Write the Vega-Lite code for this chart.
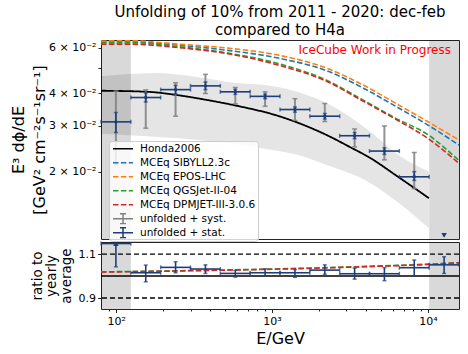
{
  "$schema": "https://vega.github.io/schema/vega-lite/v6.json",
  "padding": {"left": 10, "top": 4, "right": 5, "bottom": 2},
  "title": {"text": ["Unfolding of 10% from 2011 - 2020: dec-feb", "compared to H4a"], "fontSize": 15, "font": "DejaVu Sans", "fontWeight": "normal", "anchor": "middle", "frame": "group", "offset": 2, "lineHeight": 18, "color": "#000"},
  "config": {
    "font": "DejaVu Sans",
    "view": {"stroke": "#262626", "strokeWidth": 1},
    "axis": {"labelFont": "DejaVu Sans", "labelFontSize": 11, "titleFont": "DejaVu Sans", "titleFontWeight": "normal", "tickColor": "#262626", "domain": false, "grid": false, "labelColor": "#000", "titleColor": "#000", "labelOverlap": false, "labelFlush": false},
    "legend": {"labelFont": "DejaVu Sans"}
  },
  "datasets": {
    "regions": [{"a": 80, "b": 124.3}, {"a": 10170, "b": 15800}],
    "band": [
      {"E": 80, "lo": 0.0280, "hi": 0.0466},
      {"E": 186, "lo": 0.0272, "hi": 0.0480},
      {"E": 336, "lo": 0.0265, "hi": 0.0462},
      {"E": 522, "lo": 0.0257, "hi": 0.0443},
      {"E": 1092, "lo": 0.0240, "hi": 0.0424},
      {"E": 1469, "lo": 0.0232, "hi": 0.0405},
      {"E": 2287, "lo": 0.0211, "hi": 0.0365},
      {"E": 4114, "lo": 0.0183, "hi": 0.0290},
      {"E": 6719, "lo": 0.0149, "hi": 0.0228},
      {"E": 10138, "lo": 0.0121, "hi": 0.0200}
    ],
    "honda": [
      {"series": "Honda2006", "E": 80, "v": 0.0410},
      {"series": "Honda2006", "E": 160, "v": 0.0406},
      {"series": "Honda2006", "E": 249, "v": 0.0394},
      {"series": "Honda2006", "E": 389, "v": 0.0377},
      {"series": "Honda2006", "E": 605, "v": 0.0358},
      {"series": "Honda2006", "E": 1092, "v": 0.0328},
      {"series": "Honda2006", "E": 2287, "v": 0.0275},
      {"series": "Honda2006", "E": 3148, "v": 0.0249},
      {"series": "Honda2006", "E": 4246, "v": 0.0226},
      {"series": "Honda2006", "E": 6427, "v": 0.0191},
      {"series": "Honda2006", "E": 10138, "v": 0.0158}
    ],
    "mceq": [
      {"series": "MCEq SIBYLL2.3c", "E": 80, "v": 0.06310},
      {"series": "MCEq SIBYLL2.3c", "E": 119.4, "v": 0.06338},
      {"series": "MCEq SIBYLL2.3c", "E": 249.6, "v": 0.06144},
      {"series": "MCEq SIBYLL2.3c", "E": 522, "v": 0.05864},
      {"series": "MCEq SIBYLL2.3c", "E": 1092, "v": 0.05478},
      {"series": "MCEq SIBYLL2.3c", "E": 2287, "v": 0.04870},
      {"series": "MCEq SIBYLL2.3c", "E": 3722, "v": 0.04240},
      {"series": "MCEq SIBYLL2.3c", "E": 6140, "v": 0.03583},
      {"series": "MCEq SIBYLL2.3c", "E": 10000, "v": 0.03022},
      {"series": "MCEq SIBYLL2.3c", "E": 15800, "v": 0.02531},
      {"series": "MCEq EPOS-LHC", "E": 80, "v": 0.06366},
      {"series": "MCEq EPOS-LHC", "E": 119.4, "v": 0.06394},
      {"series": "MCEq EPOS-LHC", "E": 249.6, "v": 0.06199},
      {"series": "MCEq EPOS-LHC", "E": 522, "v": 0.05984},
      {"series": "MCEq EPOS-LHC", "E": 1092, "v": 0.05625},
      {"series": "MCEq EPOS-LHC", "E": 2287, "v": 0.04984},
      {"series": "MCEq EPOS-LHC", "E": 3722, "v": 0.04354},
      {"series": "MCEq EPOS-LHC", "E": 6140, "v": 0.03680},
      {"series": "MCEq EPOS-LHC", "E": 10000, "v": 0.03112},
      {"series": "MCEq EPOS-LHC", "E": 15800, "v": 0.02647},
      {"series": "MCEq QGSJet-II-04", "E": 80, "v": 0.06282},
      {"series": "MCEq QGSJet-II-04", "E": 119.4, "v": 0.06282},
      {"series": "MCEq QGSJet-II-04", "E": 249.6, "v": 0.06064},
      {"series": "MCEq QGSJet-II-04", "E": 522, "v": 0.05725},
      {"series": "MCEq QGSJet-II-04", "E": 1092, "v": 0.05218},
      {"series": "MCEq QGSJet-II-04", "E": 2287, "v": 0.04471},
      {"series": "MCEq QGSJet-II-04", "E": 3722, "v": 0.03812},
      {"series": "MCEq QGSJet-II-04", "E": 6140, "v": 0.03223},
      {"series": "MCEq QGSJet-II-04", "E": 10000, "v": 0.02774},
      {"series": "MCEq QGSJet-II-04", "E": 15800, "v": 0.02204},
      {"series": "MCEq DPMJET-III-3.0.6", "E": 80, "v": 0.06199},
      {"series": "MCEq DPMJET-III-3.0.6", "E": 119.4, "v": 0.06199},
      {"series": "MCEq DPMJET-III-3.0.6", "E": 249.6, "v": 0.06011},
      {"series": "MCEq DPMJET-III-3.0.6", "E": 522, "v": 0.05690},
      {"series": "MCEq DPMJET-III-3.0.6", "E": 1092, "v": 0.05150},
      {"series": "MCEq DPMJET-III-3.0.6", "E": 2287, "v": 0.04431},
      {"series": "MCEq DPMJET-III-3.0.6", "E": 3722, "v": 0.03778},
      {"series": "MCEq DPMJET-III-3.0.6", "E": 6140, "v": 0.03195},
      {"series": "MCEq DPMJET-III-3.0.6", "E": 10000, "v": 0.02684},
      {"series": "MCEq DPMJET-III-3.0.6", "E": 15800, "v": 0.02151}
    ],
    "pts": [
      {"E": 99.7, "lo": 80, "hi": 124.3, "v": 0.0311, "sl": 0.0283, "sh": 0.0338, "yl": 0.0213, "yh": 0.0409},
      {"E": 154.9, "lo": 124.3, "hi": 193.1, "v": 0.0386, "sl": 0.0371, "sh": 0.0402, "yl": 0.0294, "yh": 0.0413},
      {"E": 240.6, "lo": 193.1, "hi": 299.9, "v": 0.0414, "sl": 0.0398, "sh": 0.0430, "yl": 0.0327, "yh": 0.0440},
      {"E": 374, "lo": 299.9, "hi": 465.9, "v": 0.0428, "sl": 0.0414, "sh": 0.0443, "yl": 0.0400, "yh": 0.0474},
      {"E": 581, "lo": 465.9, "hi": 723.7, "v": 0.0406, "sl": 0.0397, "sh": 0.0415, "yl": 0.0365, "yh": 0.0422},
      {"E": 902, "lo": 723.7, "hi": 1124, "v": 0.0390, "sl": 0.0382, "sh": 0.0398, "yl": 0.0357, "yh": 0.0406},
      {"E": 1402, "lo": 1124, "hi": 1747, "v": 0.0347, "sl": 0.0339, "sh": 0.0355, "yl": 0.0315, "yh": 0.0382},
      {"E": 2178, "lo": 1747, "hi": 2713, "v": 0.0327, "sl": 0.0319, "sh": 0.0335, "yl": 0.0312, "yh": 0.0366},
      {"E": 3383, "lo": 2713, "hi": 4214, "v": 0.0275, "sl": 0.0268, "sh": 0.0283, "yl": 0.0249, "yh": 0.0292},
      {"E": 5253, "lo": 4214, "hi": 6547, "v": 0.0240, "sl": 0.0233, "sh": 0.0247, "yl": 0.0222, "yh": 0.0300},
      {"E": 8160, "lo": 6547, "hi": 10170, "v": 0.0191, "sl": 0.0185, "sh": 0.0200, "yl": 0.0172, "yh": 0.0237}
    ],
    "offlow": [{"E": 12680, "v": 0.01136}],
    "note": [{"E": 14030, "v": 0.0569, "label": "IceCube Work in Progress"}],
    "ratio": [
      {"E": 99.7, "lo": 80, "hi": 124.3, "r": 1.148, "rl": 1.042, "rh": 1.148},
      {"E": 154.9, "lo": 124.3, "hi": 193.1, "r": 1.015, "rl": 0.974, "rh": 1.05},
      {"E": 240.6, "lo": 193.1, "hi": 299.9, "r": 1.0395, "rl": 1.015, "rh": 1.065},
      {"E": 374, "lo": 299.9, "hi": 465.9, "r": 1.032, "rl": 1.012, "rh": 1.051},
      {"E": 581, "lo": 465.9, "hi": 723.7, "r": 1.012, "rl": 0.995, "rh": 1.026},
      {"E": 902, "lo": 723.7, "hi": 1124, "r": 1.015, "rl": 1.001, "rh": 1.033},
      {"E": 1402, "lo": 1124, "hi": 1747, "r": 1.015, "rl": 0.994, "rh": 1.030},
      {"E": 2178, "lo": 1747, "hi": 2713, "r": 1.027, "rl": 1.008, "rh": 1.051},
      {"E": 3383, "lo": 2713, "hi": 4214, "r": 1.0105, "rl": 0.986, "rh": 1.036},
      {"E": 5253, "lo": 4214, "hi": 6547, "r": 1.0105, "rl": 0.979, "rh": 1.038},
      {"E": 8160, "lo": 6547, "hi": 10170, "r": 1.038, "rl": 1.0, "rh": 1.073},
      {"E": 12680, "lo": 10170, "hi": 15800, "r": 1.051, "rl": 1.012, "rh": 1.088}
    ],
    "offhigh": [{"E": 99.7, "r": 1.148}],
    "refs": [{"y": 0.9}, {"y": 1.1}],
    "one": [{"y": 1.0}],
    "rq": [
      {"E": 80, "r": 1.019}, {"E": 300, "r": 1.025}, {"E": 1000, "r": 1.032}, {"E": 3000, "r": 1.041}, {"E": 10000, "r": 1.054}, {"E": 15800, "r": 1.061}
    ],
    "rd": [
      {"E": 80, "r": 1.018}, {"E": 300, "r": 1.024}, {"E": 1000, "r": 1.031}, {"E": 3000, "r": 1.040}, {"E": 10000, "r": 1.053}, {"E": 15800, "r": 1.060}
    ]
  },
  "spacing": 0,
  "vconcat": [
    {
      "width": 358,
      "height": 199,
      "layer": [
        {"data": {"name": "regions"}, "mark": {"type": "rect", "color": "#000", "opacity": 0.15},
         "encoding": {"x": {"field": "a", "type": "quantitative", "scale": {"type": "log", "domain": [80, 15800], "nice": false}, "axis": null}, "x2": {"field": "b"}}},
        {"data": {"name": "band"}, "mark": {"type": "area", "color": "#000", "opacity": 0.1, "interpolate": "monotone"},
         "encoding": {
           "x": {"field": "E", "type": "quantitative", "scale": {"type": "log", "domain": [80, 15800], "nice": false}, "axis": null},
           "y": {"field": "lo", "type": "quantitative", "scale": {"type": "log", "domain": [0.011, 0.0643], "nice": false},
                 "axis": {"title": ["E³ dϕ/dE", "[GeV² cm⁻²s⁻¹sr⁻¹]"], "titleFontSize": 16, "titleLineHeight": 21, "titlePadding": 1, "values": [0.02, 0.03, 0.04, 0.05, 0.06], "labelExpr": "datum.value > 0.045 && datum.value < 0.055 ? '' : format(round(datum.value * 100), 'd') + ' × 10⁻²'", "tickSize": 3, "labelPadding": 2}},
           "y2": {"field": "hi"}}},
        {"data": {"name": "honda"}, "mark": {"type": "line", "strokeWidth": 1.8, "interpolate": "monotone", "clip": true},
         "encoding": {
           "x": {"field": "E", "type": "quantitative", "axis": null},
           "y": {"field": "v", "type": "quantitative"},
           "color": {"field": "series", "type": "nominal", "scale": {"domain": ["Honda2006", "MCEq SIBYLL2.3c", "MCEq EPOS-LHC", "MCEq QGSJet-II-04", "MCEq DPMJET-III-3.0.6", "unfolded + syst.", "unfolded + stat."], "range": ["#000000", "#1f77b4", "#ff7f0e", "#2ca02c", "#d62728", "#808080", "#1c3f7a"]},
                     "legend": {"title": null, "orient": "none", "legendX": 8, "legendY": 101, "fillColor": "rgba(255,255,255,0.8)", "strokeColor": "#cccccc", "padding": 2, "symbolOffset": 6, "cornerRadius": 3, "labelFontSize": 10.5, "symbolSize": 100, "symbolStrokeWidth": 1.5, "labelOffset": 11, "rowPadding": 2, "clipHeight": 11.5,
                                "encode": {"symbols": {"update": {"shape": {"signal": "indexof(['unfolded + syst.', 'unfolded + stat.'], datum.value) >= 0 ? 'M-2,0H2M0,-1V1M-0.6,-1H0.6M-0.6,1H0.6' : 'M-2,0H2'"}}}}}},
           "strokeDash": {"field": "series", "type": "nominal", "scale": {"domain": ["Honda2006", "MCEq SIBYLL2.3c", "MCEq EPOS-LHC", "MCEq QGSJet-II-04", "MCEq DPMJET-III-3.0.6", "unfolded + syst.", "unfolded + stat."], "range": [[1, 0], [5.5, 2.4], [5.5, 2.4], [5.5, 2.4], [5.5, 2.4], [1, 0], [1, 0]]},
                          "legend": {"title": null, "orient": "none", "legendX": 8, "legendY": 101, "fillColor": "rgba(255,255,255,0.8)", "strokeColor": "#cccccc", "padding": 2, "symbolOffset": 6, "cornerRadius": 3, "labelFontSize": 10.5, "symbolSize": 100, "symbolStrokeWidth": 1.5, "labelOffset": 11, "rowPadding": 2, "clipHeight": 11.5,
                                     "encode": {"symbols": {"update": {"shape": {"signal": "indexof(['unfolded + syst.', 'unfolded + stat.'], datum.value) >= 0 ? 'M-2,0H2M0,-1V1M-0.6,-1H0.6M-0.6,1H0.6' : 'M-2,0H2'"}}}}}}}},
        {"data": {"name": "mceq"}, "mark": {"type": "line", "strokeWidth": 1.6, "interpolate": "monotone", "clip": true},
         "encoding": {
           "x": {"field": "E", "type": "quantitative", "axis": null},
           "y": {"field": "v", "type": "quantitative"},
           "color": {"field": "series", "type": "nominal"},
           "strokeDash": {"field": "series", "type": "nominal"}}},
        {"data": {"name": "pts"}, "mark": {"type": "rule", "color": "#808080", "strokeWidth": 2, "opacity": 0.85},
         "encoding": {"x": {"field": "E", "type": "quantitative", "axis": null}, "y": {"field": "yl", "type": "quantitative"}, "y2": {"field": "yh"}}},
        {"data": {"name": "pts"}, "mark": {"type": "tick", "orient": "horizontal", "color": "#808080", "size": 5, "thickness": 1.5, "opacity": 0.85},
         "encoding": {"x": {"field": "E", "type": "quantitative", "axis": null}, "y": {"field": "yl", "type": "quantitative"}}},
        {"data": {"name": "pts"}, "mark": {"type": "tick", "orient": "horizontal", "color": "#808080", "size": 5, "thickness": 1.5, "opacity": 0.85},
         "encoding": {"x": {"field": "E", "type": "quantitative", "axis": null}, "y": {"field": "yh", "type": "quantitative"}}},
        {"data": {"name": "pts"}, "mark": {"type": "rule", "color": "#1c3f7a", "strokeWidth": 1.6},
         "encoding": {"x": {"field": "E", "type": "quantitative", "axis": null}, "y": {"field": "sl", "type": "quantitative"}, "y2": {"field": "sh"}}},
        {"data": {"name": "pts"}, "mark": {"type": "tick", "orient": "horizontal", "color": "#1c3f7a", "size": 4, "thickness": 1.5},
         "encoding": {"x": {"field": "E", "type": "quantitative", "axis": null}, "y": {"field": "sl", "type": "quantitative"}}},
        {"data": {"name": "pts"}, "mark": {"type": "tick", "orient": "horizontal", "color": "#1c3f7a", "size": 4, "thickness": 1.5},
         "encoding": {"x": {"field": "E", "type": "quantitative", "axis": null}, "y": {"field": "sh", "type": "quantitative"}}},
        {"data": {"name": "pts"}, "mark": {"type": "rule", "color": "#1c3f7a", "strokeWidth": 1.6},
         "encoding": {"x": {"field": "lo", "type": "quantitative", "axis": null}, "x2": {"field": "hi"}, "y": {"field": "v", "type": "quantitative"}}},
        {"data": {"name": "pts"}, "mark": {"type": "tick", "orient": "vertical", "color": "#1c3f7a", "size": 4, "thickness": 1.5},
         "encoding": {"x": {"field": "lo", "type": "quantitative", "axis": null}, "y": {"field": "v", "type": "quantitative"}}},
        {"data": {"name": "pts"}, "mark": {"type": "tick", "orient": "vertical", "color": "#1c3f7a", "size": 4, "thickness": 1.5},
         "encoding": {"x": {"field": "hi", "type": "quantitative", "axis": null}, "y": {"field": "v", "type": "quantitative"}}},
        {"data": {"name": "pts"}, "mark": {"type": "point", "shape": "circle", "filled": true, "color": "#1c3f7a", "size": 12, "opacity": 1},
         "encoding": {"x": {"field": "E", "type": "quantitative", "axis": null}, "y": {"field": "v", "type": "quantitative"}}},
        {"data": {"name": "offlow"}, "mark": {"type": "point", "shape": "triangle-down", "filled": true, "color": "#1c3f7a", "size": 30, "opacity": 1},
         "encoding": {"x": {"field": "E", "type": "quantitative", "axis": null}, "y": {"field": "v", "type": "quantitative"}}},
        {"data": {"name": "note"}, "mark": {"type": "text", "color": "#ff0000", "fontSize": 12, "align": "right", "baseline": "alphabetic", "font": "DejaVu Sans"},
         "encoding": {"x": {"field": "E", "type": "quantitative", "axis": null}, "y": {"field": "v", "type": "quantitative"}, "text": {"field": "label"}}}
      ]
    },
    {
      "width": 358,
      "height": 67,
      "layer": [
        {"data": {"name": "regions"}, "mark": {"type": "rect", "color": "#000", "opacity": 0.15},
         "encoding": {"x": {"field": "a", "type": "quantitative", "scale": {"type": "log", "domain": [80, 15800], "nice": false},
                            "axis": {"title": "E/GeV", "titleFontSize": 16, "titlePadding": 4, "values": [90, 100, 200, 300, 400, 500, 600, 700, 800, 900, 1000, 2000, 3000, 4000, 5000, 6000, 7000, 8000, 9000, 10000],
                                     "labelExpr": "datum.value == 100 ? '10²' : datum.value == 1000 ? '10³' : datum.value == 10000 ? '10⁴' : ''",
                                     "tickSize": {"condition": {"test": "datum.value == 100 || datum.value == 1000 || datum.value == 10000", "value": 3.5}, "value": 2}, "labelPadding": 3}},
                      "x2": {"field": "b"}}},
        {"data": {"name": "refs"}, "mark": {"type": "rule", "color": "#000", "strokeWidth": 1.4, "strokeDash": [5, 3]},
         "encoding": {"y": {"field": "y", "type": "quantitative", "scale": {"domain": [0.85, 1.155], "nice": false, "zero": false},
                            "axis": {"title": ["ratio to", "yearly", "average"], "titleFontSize": 13.5, "titleLineHeight": 14.5, "titlePadding": 5, "values": [0.9, 1.0, 1.1], "format": ".1f", "tickSize": 3.5, "labelPadding": 2}}}},
        {"data": {"name": "one"}, "mark": {"type": "rule", "color": "#000", "strokeWidth": 1.4},
         "encoding": {"y": {"field": "y", "type": "quantitative"}}},
        {"data": {"name": "rq"}, "mark": {"type": "line", "strokeWidth": 1.6, "strokeDash": [5.5, 2.4], "interpolate": "monotone", "clip": true, "color": "#2ca02c"},
         "encoding": {"x": {"field": "E", "type": "quantitative"}, "y": {"field": "r", "type": "quantitative"}}},
        {"data": {"name": "rd"}, "mark": {"type": "line", "strokeWidth": 1.6, "strokeDash": [5.5, 2.4], "interpolate": "monotone", "clip": true, "color": "#d62728"},
         "encoding": {"x": {"field": "E", "type": "quantitative"}, "y": {"field": "r", "type": "quantitative"}}},
        {"data": {"name": "ratio"}, "mark": {"type": "rule", "color": "#1c3f7a", "strokeWidth": 1.6},
         "encoding": {"x": {"field": "E", "type": "quantitative"}, "y": {"field": "rl", "type": "quantitative"}, "y2": {"field": "rh"}}},
        {"data": {"name": "ratio"}, "mark": {"type": "tick", "orient": "horizontal", "color": "#1c3f7a", "size": 4, "thickness": 1.5},
         "encoding": {"x": {"field": "E", "type": "quantitative"}, "y": {"field": "rl", "type": "quantitative"}}},
        {"data": {"name": "ratio"}, "mark": {"type": "tick", "orient": "horizontal", "color": "#1c3f7a", "size": 4, "thickness": 1.5},
         "encoding": {"x": {"field": "E", "type": "quantitative"}, "y": {"field": "rh", "type": "quantitative"}}},
        {"data": {"name": "ratio"}, "mark": {"type": "rule", "color": "#1c3f7a", "strokeWidth": 1.6},
         "encoding": {"x": {"field": "lo", "type": "quantitative"}, "x2": {"field": "hi"}, "y": {"field": "r", "type": "quantitative"}}},
        {"data": {"name": "ratio"}, "mark": {"type": "tick", "orient": "vertical", "color": "#1c3f7a", "size": 4, "thickness": 1.5},
         "encoding": {"x": {"field": "lo", "type": "quantitative"}, "y": {"field": "r", "type": "quantitative"}}},
        {"data": {"name": "ratio"}, "mark": {"type": "tick", "orient": "vertical", "color": "#1c3f7a", "size": 4, "thickness": 1.5},
         "encoding": {"x": {"field": "hi", "type": "quantitative"}, "y": {"field": "r", "type": "quantitative"}}},
        {"data": {"name": "offhigh"}, "mark": {"type": "point", "shape": "triangle-up", "filled": true, "color": "#1c3f7a", "size": 30, "opacity": 1},
         "encoding": {"x": {"field": "E", "type": "quantitative"}, "y": {"field": "r", "type": "quantitative"}}}
      ]
    }
  ]
}
